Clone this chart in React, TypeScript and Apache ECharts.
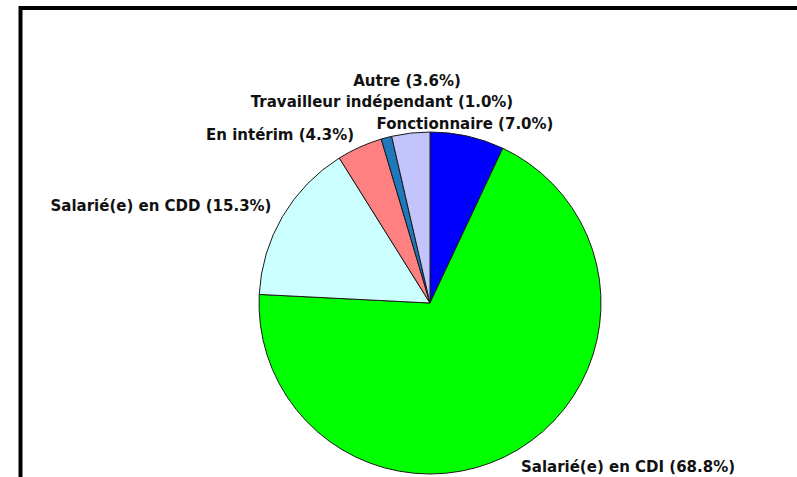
import React, { useEffect, useRef } from "react";
import * as echarts from "echarts";

const categories = [
  "Fonctionnaire",
  "Salarié(e) en CDI",
  "Salarié(e) en CDD",
  "En intérim",
  "Travailleur indépendant",
  "Autre",
];
const values = [7.0, 68.8, 15.3, 4.3, 1.0, 3.6];
const colors = ["#0000FF", "#00FF00", "#CCFFFF", "#FF8080", "#1F78BC", "#C4C4FC"];
// label centre positions (px)
const labelPos: [number, number][] = [
  [465, 124],
  [628, 467],
  [161, 206],
  [280, 135],
  [382, 102],
  [407, 81],
];

export default function App() {
  const ref = useRef<HTMLDivElement>(null);
  useEffect(() => {
    if (!ref.current) return;
    const chart = echarts.init(ref.current, null, { renderer: "svg" });
    chart.setOption({
      animation: false,
      backgroundColor: "#ffffff",
      graphic: [
        {
          type: "rect",
          shape: { x: 20.5, y: 8, width: 820, height: 520 },
          style: { fill: "none", stroke: "#000", lineWidth: 4 },
          silent: true,
        },
      ],
      series: [
        {
          type: "pie",
          center: [430, 303],
          radius: 171,
          startAngle: 90,
          clockwise: true,
          data: categories.map((c, i) => ({
            name: c,
            value: values[i],
            itemStyle: { color: colors[i] },
          })),
          itemStyle: { borderColor: "#1a1a1a", borderWidth: 1 },
          label: {
            show: true,
            position: "outside",
            formatter: (p: any) => `${p.name} (${values[p.dataIndex].toFixed(1)}%)`,
            fontFamily: "DejaVu Sans",
            fontWeight: "bold",
            fontSize: 15,
            lineHeight: 16,
            color: "#111",
          },
          labelLine: { show: false },
          labelLayout: (p: any) => ({
            x: labelPos[p.dataIndex][0],
            y: labelPos[p.dataIndex][1],
            align: "center",
            verticalAlign: "middle",
          }),
          emphasis: { disabled: true },
        },
      ],
    });
    return () => chart.dispose();
  }, []);
  return (
    <div
      ref={ref}
      style={{ position: "fixed", left: 0, top: 0, width: 797, height: 477 }}
    />
  );
}
